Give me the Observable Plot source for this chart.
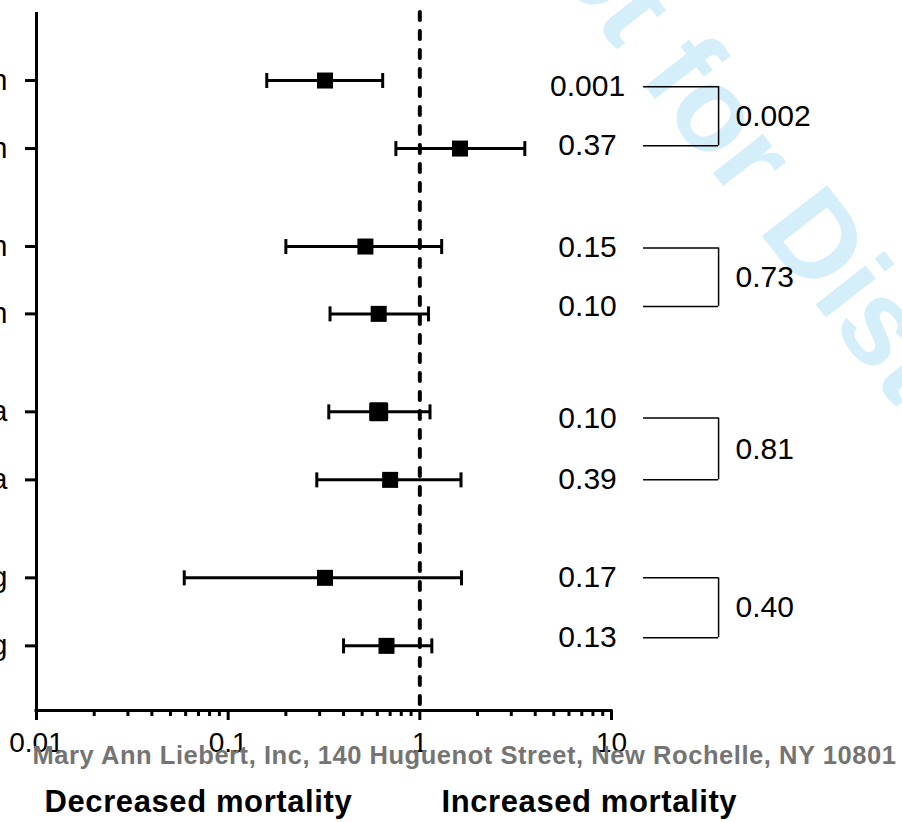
<!DOCTYPE html>
<html>
<head>
<meta charset="utf-8">
<script src="https://cdn.jsdelivr.net/npm/d3@7"></script>
<script src="https://cdn.jsdelivr.net/npm/@observablehq/plot@0.6"></script>
<style>
  html, body { margin: 0; padding: 0; background: #fff; overflow: hidden; }
  #chart svg { display: block; }
  .dirlabel text { letter-spacing: 0.6px; }
  .footer text { letter-spacing: 0.55px; }
</style>
</head>
<body>
<div id="chart"></div>
<script>
// ---- data ----
const rowLabels = ["n", "n", "n", "n", "a", "a", "g", "g"];
const rowPos    = [1, 2, 3.44, 4.43, 5.87, 6.87, 8.31, 9.31];
const estimate  = [0.32, 1.62, 0.52, 0.61, 0.61, 0.70, 0.32, 0.67];
const lowerCI   = [0.159, 0.75, 0.20, 0.34, 0.335, 0.29, 0.059, 0.40];
const upperCI   = [0.64, 3.53, 1.30, 1.11, 1.13, 1.64, 1.65, 1.155];
const pValues   = ["0.001", "0.37", "0.15", "0.10", "0.10", "0.39", "0.17", "0.13"];
const pValuePos = [1.09, 1.96, 3.46, 4.32, 5.96, 6.87, 8.31, 9.19];
const groupP    = ["0.002", "0.73", "0.81", "0.40"];
const xTicks      = [0.01, 0.1, 1, 10];
const xTickLabels = ["0.01", "0.1", "1", "10"];
const footerText  = "Mary Ann Liebert, Inc, 140 Huguenot Street, New Rochelle, NY 10801";
const leftLabel   = "Decreased mortality";
const rightLabel  = "Increased mortality";
const watermark   = "Not for Distribution";

// ---- derived tables ----
const rows = rowLabels.map((label, i) => ({
  label, pos: rowPos[i], est: estimate[i], lo: lowerCI[i], hi: upperCI[i]
}));
const pRows = pValues.map((p, i) => ({ p, pos: pValuePos[i] }));
const groups = groupP.map((p, g) => ({
  p, top: pValuePos[2 * g], bottom: pValuePos[2 * g + 1],
  mid: (pValuePos[2 * g] + pValuePos[2 * g + 1]) / 2
}));
const minorTicks = [];
for (const d of [0.01, 0.1, 1]) for (let k = 2; k <= 9; k++) minorTicks.push(+(d * k).toPrecision(3));

const yMax = 10.26;
const font = "'Liberation Sans', Arial, Helvetica, sans-serif";

// annotation columns (data space on the log x scale, right of the axis)
const pColX = 7.5, brX1 = 14.7, brX2 = 36.2, groupLabelX = 44.4;

// vertical cap symbol for whiskers
const vbar = { draw(ctx, size) { const h = Math.sqrt(size / Math.PI); ctx.moveTo(0, -h); ctx.lineTo(0, h); } };

const chart = Plot.plot({
  width: 902,
  height: 822,
  marginLeft: 36,
  marginRight: 291,
  marginTop: 12,
  marginBottom: 112,
  style: { fontFamily: font, background: "#fff", color: "#000" },
  x: { type: "log", domain: [0.01, 10] },
  y: { domain: [0, yMax], reverse: true },
  marks: [
    // watermark (behind everything)
    Plot.text([watermark], {
      frameAnchor: "top-left", dx: 458, dy: -119, rotate: 52,
      textAnchor: "start", lineAnchor: "bottom",
      fontSize: 120, fontWeight: "bold", fill: "#d4eefa", fontFamily: font
    }),
    // reference line at 1
    Plot.ruleX([1], {
      y1: 0, y2: yMax, stroke: "#000", strokeWidth: 4,
      strokeDasharray: "8,11", strokeLinecap: "round"
    }),
    // axes lines
    Plot.ruleX([0.01], { y1: 0, y2: yMax, stroke: "#000", strokeWidth: 3 }),
    Plot.ruleY([yMax], { x1: 0.01, x2: 10, stroke: "#000", strokeWidth: 3, strokeLinecap: "square" }),
    // x axis: major ticks + labels
    Plot.axisX({
      ticks: xTicks, tickSize: 10, tickPadding: 12, strokeWidth: 3,
      tickFormat: (d) => xTickLabels[xTicks.indexOf(d)],
      fontSize: 28, fill: "#000", label: null
    }),
    // x axis: minor ticks
    Plot.axisX({
      ticks: minorTicks, tickSize: 6, strokeWidth: 3, tickFormat: () => "", label: null
    }),
    // y axis ticks + (cropped) labels
    Plot.axisY({
      ticks: rowPos, tickSize: 11, tickPadding: 18, strokeWidth: 3,
      tickFormat: (d) => rowLabels[rowPos.indexOf(d)],
      fontSize: 29, fill: "#000", label: null
    }),
    // confidence intervals
    Plot.ruleY(rows, { y: "pos", x1: "lo", x2: "hi", stroke: "#000", strokeWidth: 3 }),
    Plot.dot(rows, { x: "lo", y: "pos", symbol: vbar, r: 7.5, stroke: "#000", strokeWidth: 3, fill: "none" }),
    Plot.dot(rows, { x: "hi", y: "pos", symbol: vbar, r: 7.5, stroke: "#000", strokeWidth: 3, fill: "none" }),
    // point estimates
    Plot.dot(rows, {
      x: "est", y: "pos", symbol: "square", r: 9.03, fill: "#000",
      stroke: "#000", strokeWidth: (d, i) => (i === 4 ? 3 : 0), strokeLinejoin: "round"
    }),
    // p-values per row
    Plot.text(pRows, {
      x: () => pColX, y: "pos", text: "p", fontSize: 30, fill: "#000", textAnchor: "middle"
    }),
    // brackets
    Plot.ruleY(pRows, { y: "pos", x1: () => brX1, x2: () => brX2, stroke: "#000", strokeWidth: 1.5 }),
    Plot.ruleX(groups, { x: () => brX2, y1: "top", y2: "bottom", stroke: "#000", strokeWidth: 1.5 }),
    Plot.text(groups, {
      x: () => groupLabelX, y: "mid", text: "p", fontSize: 30, fill: "#000", textAnchor: "start"
    }),
    // footer and direction labels
    Plot.text([footerText], {
      className: "footer",
      frameAnchor: "bottom-left", dx: -4, dy: 53, textAnchor: "start",
      fontSize: 25.5, fontWeight: "bold", fill: "#747474"
    }),
    Plot.text([leftLabel], {
      className: "dirlabel",
      frameAnchor: "bottom-left", dx: 8, dy: 101, textAnchor: "start",
      fontSize: 31, fontWeight: "bold", fill: "#000"
    }),
    Plot.text([rightLabel], {
      className: "dirlabel",
      frameAnchor: "bottom-left", dx: 405, dy: 101, textAnchor: "start",
      fontSize: 31, fontWeight: "bold", fill: "#000"
    })
  ]
});
document.getElementById("chart").appendChild(chart);
</script>
</body>
</html>
